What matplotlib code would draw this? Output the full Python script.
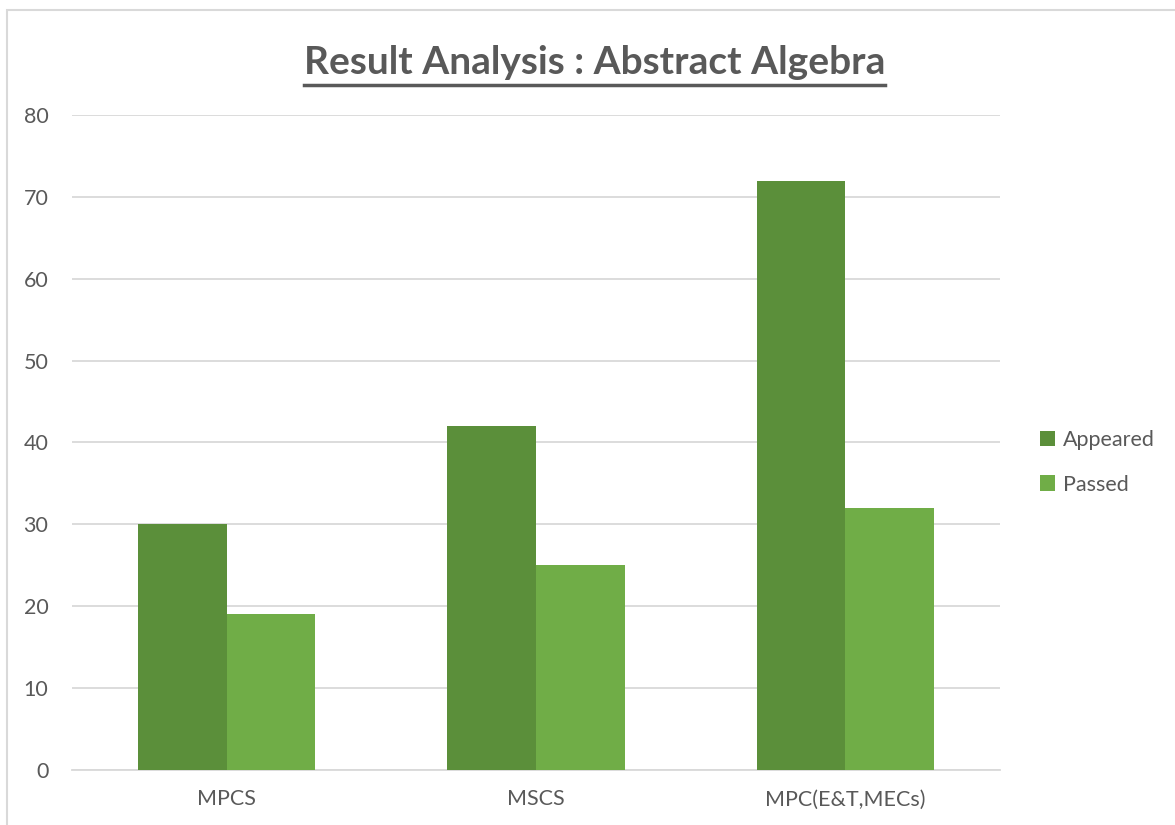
import matplotlib
matplotlib.use("Agg")

import matplotlib.pyplot as plt
from matplotlib.patches import Rectangle
from matplotlib.lines import Line2D
import numpy as np


categories = ["MPCS", "MSCS", "MPC(E&T,MECs)"]
appeared = [30, 42, 72]
passed = [19, 25, 32]
y_ticks = [0, 10, 20, 30, 40, 50, 60, 70, 80]

TEXT = "#595959"
GRID = "#D9D9D9"

plt.rcParams["font.family"] = ["Lato", "DejaVu Sans"]

fig = plt.figure(figsize=(11.75, 8.25), dpi=100)
ax = fig.add_axes([0.0613, 0.0667, 0.7897, 0.7939])

x = np.arange(len(categories))
w = 0.287

ax.bar(x - w / 2, appeared, w, color="#5B8F3A", label="Appeared", zorder=3)
ax.bar(x + w / 2, passed, w, color="#70AD47", label="Passed", zorder=3)

ax.set_xlim(-0.5, len(categories) - 0.5)
ax.set_ylim(0, 80)
ax.set_yticks(y_ticks)
ax.set_xticks(x)
ax.set_xticklabels(categories)

ax.yaxis.grid(True, color=GRID, linewidth=1.3, zorder=0)
ax.set_axisbelow(True)
for side in ["top", "right", "left"]:
    ax.spines[side].set_visible(False)
ax.spines["bottom"].set_color(GRID)
ax.spines["bottom"].set_linewidth(1.3)

ax.tick_params(axis="both", length=0, colors=TEXT, labelsize=15.5)
ax.tick_params(axis="y", pad=17)
ax.tick_params(axis="x", pad=14)

leg = ax.legend(loc="center left", bbox_to_anchor=(1.022, 0.47), frameon=False,
                fontsize=15.5, handlelength=0.7, handleheight=0.7,
                handletextpad=0.4, labelspacing=1.15)
for t in leg.get_texts():
    t.set_color(TEXT)

title = fig.text(0.506, 0.91, "Result Analysis : Abstract Algebra", ha="center",
                 va="baseline", fontsize=28, fontweight="bold", color=TEXT)

fig.canvas.draw()
bb = title.get_window_extent().transformed(fig.transFigure.inverted())
fig.add_artist(Line2D([bb.x0, bb.x1], [0.897, 0.897], color=TEXT, linewidth=2.5,
                      transform=fig.transFigure))

fig.add_artist(Rectangle((7 / 1175, -0.1), 2, 1.1 - 10 / 825,
                         transform=fig.transFigure, fill=False,
                         edgecolor=GRID, linewidth=1.5))

fig.savefig("out.png", dpi=100)
plt.close(fig)
